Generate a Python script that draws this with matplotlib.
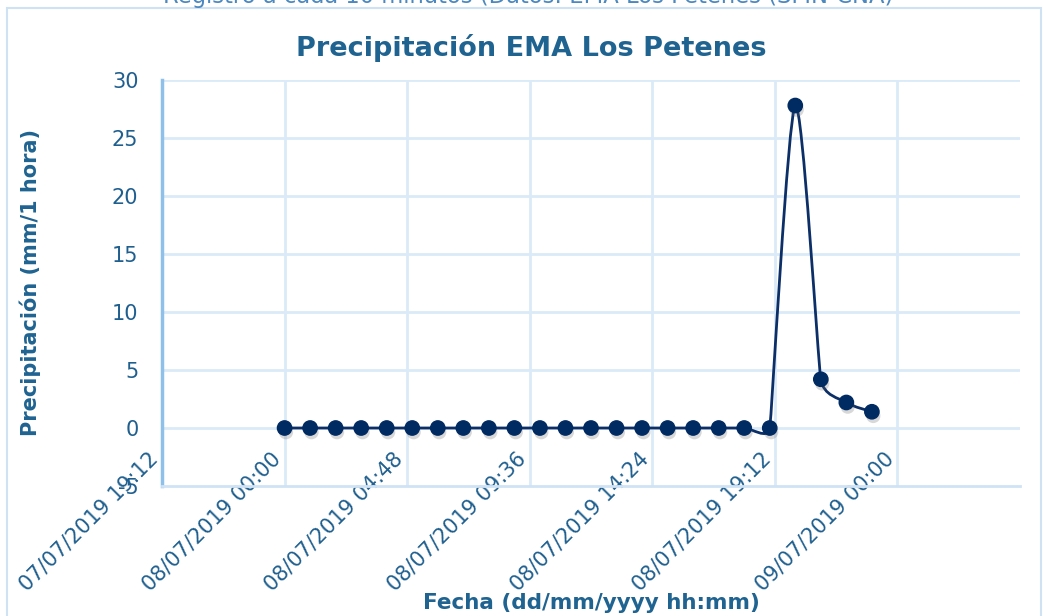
import matplotlib
matplotlib.use("Agg")
import numpy as np
import matplotlib.pyplot as plt
from matplotlib.path import Path
from matplotlib.patches import PathPatch, Rectangle
import matplotlib.patheffects as pe

# ---- data (hours since 08/07/2019 00:00) ----
hours = [0, 1, 2, 3, 4, 5, 6, 7, 8, 9, 10, 11, 12, 13, 14, 15, 16, 17, 18, 19,
         20, 21, 22, 23]
precip = [0, 0, 0, 0, 0, 0, 0, 0, 0, 0, 0, 0, 0, 0, 0, 0, 0, 0, 0, 0,
          27.8, 4.2, 2.2, 1.4]
xtick_pos = [-4.8, 0, 4.8, 9.6, 14.4, 19.2, 24.0]
xtick_labels = ["07/07/2019 19:12", "08/07/2019 00:00", "08/07/2019 04:48",
                "08/07/2019 09:36", "08/07/2019 14:24", "08/07/2019 19:12",
                "09/07/2019 00:00"]
ytick_pos = [-5, 0, 5, 10, 15, 20, 25, 30]

TITLE = "Precipitación EMA Los Petenes"
SUBTITLE = "Registro a cada 10 minutos (Datos: EMA Los Petenes (SMN-CNA)"
XLABEL = "Fecha (dd/mm/yyyy hh:mm)"
YLABEL = "Precipitación (mm/1 hora)"

W, H = 1045, 616
fig = plt.figure(figsize=(W / 100, H / 100), dpi=100)
fig.patch.set_facecolor("white")

# chart border and (partly cut) subtitle
fig.patches.append(Rectangle((7 / W, -0.05), (1041 - 7) / W, 1.05 - 8 / H,
                             transform=fig.transFigure, fill=False,
                             edgecolor="#cfe2f3", linewidth=1.5))
fig.text(528 / W, 1 - 3 / H, SUBTITLE, ha="center", va="baseline",
         fontsize=16.3, color="#4a88bf", family="DejaVu Sans")

ax = fig.add_axes([162 / W, 1 - 486 / H, (1020 - 162) / W, (486 - 80) / H])
ax.set_xlim(-4.8, 28.8)
ax.set_ylim(-5, 30)

grid_c = "#dbeaf8"
for y in ytick_pos[1:]:
    ax.axhline(y, color=grid_c, lw=2, zorder=0)
for x in xtick_pos[1:]:
    ax.axvline(x, color=grid_c, lw=2, zorder=0)

for s in ["top", "right"]:
    ax.spines[s].set_visible(False)
ax.spines["left"].set_color("#8fc0ea")
ax.spines["left"].set_linewidth(2.5)
ax.spines["bottom"].set_color("#cfe3f5")
ax.spines["bottom"].set_linewidth(2)

tick_c = "#1f5f8f"
ax.set_yticks(ytick_pos)
ax.set_yticklabels([str(v) for v in ytick_pos])
ax.set_xticks(xtick_pos)
ax.set_xticklabels(xtick_labels, rotation=45, ha="right", va="top")
ax.tick_params(axis="y", length=0, pad=17, labelsize=15, labelcolor=tick_c)
ax.tick_params(axis="x", length=0, pad=-27, labelsize=15, labelcolor=tick_c)

# smoothed line (Excel-like Bezier smoothing, computed in display space)
line_c = "#0b2f66"
disp = ax.transData.transform(np.column_stack([hours, precip]))
n = len(disp)


def ctrl_offset(i):
    prev_p = disp[i - 1] if i > 0 else disp[i]
    next_p = disp[i + 1] if i < n - 1 else disp[i]
    t = next_p - prev_p
    tl = np.hypot(*t)
    if tl == 0:
        return np.zeros(2)
    d_prev = np.hypot(*(disp[i] - prev_p)) if i > 0 else np.inf
    d_next = np.hypot(*(next_p - disp[i])) if i < n - 1 else np.inf
    length = min(tl / 7, min(d_prev, d_next) / 2)
    return t / tl * length


offs = [ctrl_offset(i) for i in range(n)]
verts = [disp[0]]
codes = [Path.MOVETO]
for i in range(n - 1):
    verts += [disp[i] + offs[i], disp[i + 1] - offs[i + 1], disp[i + 1]]
    codes += [Path.CURVE4] * 3
verts_data = ax.transData.inverted().transform(np.array(verts))
ax.add_patch(PathPatch(Path(verts_data, codes), fill=False, edgecolor=line_c,
                       lw=2, zorder=3))

ax.plot(hours, precip, linestyle="none", marker="o", markersize=10.3,
        color="#002a62", zorder=4,
        path_effects=[pe.SimplePatchShadow(offset=(1, -3), shadow_rgbFace="#666666",
                                           alpha=0.25),
                      pe.Normal()])

fig.text(531 / W, 1 - 48 / H, TITLE, ha="center", va="center",
         fontsize=19.5, fontweight="bold", color="#1f6391", family="DejaVu Sans")
fig.text(30 / W, 1 - 283 / H, YLABEL, ha="center", va="center", rotation=90,
         fontsize=15, fontweight="bold", color="#1f6391", family="DejaVu Sans")
fig.text(591 / W, 1 - 603 / H, XLABEL, ha="center", va="center",
         fontsize=15.5, fontweight="bold", color="#1f6391", family="DejaVu Sans")

fig.savefig("out.png", dpi=100, facecolor="white")
